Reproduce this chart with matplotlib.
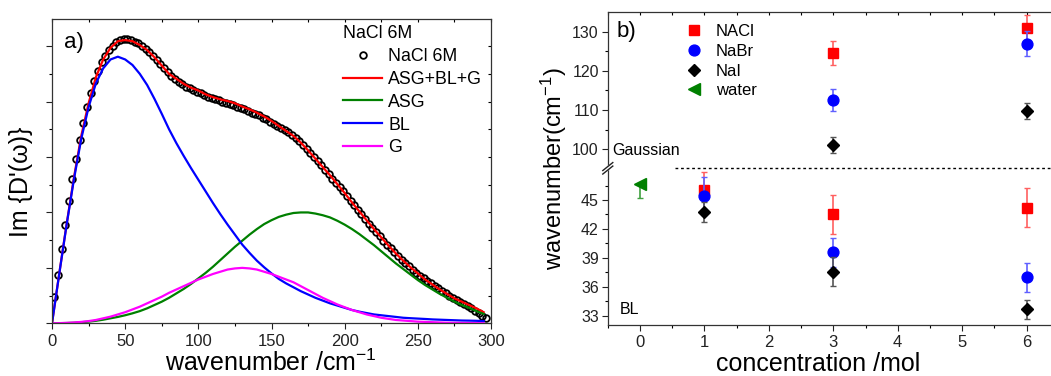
import numpy as np
import matplotlib
matplotlib.use("Agg")
import matplotlib.pyplot as plt
from matplotlib.ticker import MultipleLocator, FixedLocator
from matplotlib.lines import Line2D

plt.rcParams['font.family'] = ['Liberation Sans', 'DejaVu Sans']
plt.rcParams['mathtext.fontset'] = 'custom'
plt.rcParams['mathtext.rm'] = 'Liberation Sans'
plt.rcParams['mathtext.it'] = 'Liberation Sans:italic'

# ---- panel a) : NaCl 6M spectrum and fit components ----
wn_step = 5
red_fit = [0, 0.905, 1.79, 2.63, 3.38, 3.97, 4.44, 4.76, 4.97, 5.09,
           5.11, 5.09, 5.02, 4.93, 4.80, 4.65, 4.50, 4.41, 4.32, 4.25,
           4.20, 4.13, 4.08, 4.04, 4.01, 3.97, 3.91, 3.86, 3.80, 3.73,
           3.65, 3.56, 3.47, 3.38, 3.26, 3.12, 2.97, 2.82, 2.67, 2.51,
           2.35, 2.18, 2.02, 1.86, 1.70, 1.55, 1.40, 1.26, 1.13, 1.01,
           0.90, 0.79, 0.70, 0.61, 0.53, 0.45, 0.39, 0.33, 0.27, 0.20]
bl = [0, 0.90, 1.78, 2.60, 3.33, 3.90, 4.33, 4.60, 4.76, 4.81,
      4.76, 4.66, 4.50, 4.30, 4.05, 3.78, 3.50, 3.25, 3.02, 2.80,
      2.59, 2.38, 2.17, 1.97, 1.78, 1.60, 1.42, 1.27, 1.13, 1.01,
      0.90, 0.80, 0.72, 0.65, 0.58, 0.52, 0.46, 0.41, 0.36, 0.32,
      0.28, 0.24, 0.21, 0.185, 0.16, 0.145, 0.13, 0.115, 0.10, 0.092,
      0.085, 0.078, 0.07, 0.065, 0.06, 0.055, 0.05, 0.048, 0.045, 0.04]
asg = [0, 0.002, 0.005, 0.01, 0.02, 0.03, 0.045, 0.065, 0.09, 0.115,
       0.145, 0.18, 0.22, 0.27, 0.33, 0.39, 0.46, 0.54, 0.62, 0.71,
       0.81, 0.91, 1.02, 1.14, 1.26, 1.38, 1.49, 1.60, 1.70, 1.79,
       1.86, 1.92, 1.96, 1.99, 2.00, 2.00, 1.98, 1.95, 1.91, 1.85,
       1.78, 1.70, 1.61, 1.51, 1.41, 1.30, 1.19, 1.08, 0.98, 0.88,
       0.78, 0.69, 0.61, 0.53, 0.46, 0.39, 0.33, 0.28, 0.22, 0.17]
gauss = [0, 0.003, 0.008, 0.015, 0.025, 0.04, 0.06, 0.09, 0.12, 0.16,
         0.20, 0.25, 0.30, 0.36, 0.42, 0.48, 0.55, 0.61, 0.67, 0.73,
         0.79, 0.84, 0.89, 0.93, 0.97, 0.99, 1.00, 0.99, 0.97, 0.93,
         0.89, 0.84, 0.79, 0.74, 0.67, 0.60, 0.53, 0.46, 0.40, 0.34,
         0.29, 0.24, 0.20, 0.16, 0.13, 0.10, 0.08, 0.06, 0.05, 0.04,
         0.03, 0.025, 0.02, 0.015, 0.01, 0.008, 0.006, 0.004, 0.003, 0.002]

# measured points (every 2.5 cm-1 starting at 1.5)
meas = [0.47, 0.88, 1.34, 1.78, 2.20, 2.60, 2.96, 3.30, 3.62, 3.90,
        4.15, 4.37, 4.56, 4.71, 4.83, 4.93, 5.01, 5.07, 5.11, 5.13,
        5.13, 5.11, 5.08, 5.05, 5.00, 4.95, 4.89, 4.82, 4.75, 4.68,
        4.60, 4.53, 4.46, 4.41, 4.36, 4.31, 4.27, 4.24, 4.21, 4.18,
        4.15, 4.12, 4.09, 4.07, 4.04, 4.02, 4.00, 3.98, 3.96, 3.94,
        3.91, 3.88, 3.86, 3.83, 3.80, 3.78, 3.75, 3.71, 3.68, 3.64,
        3.60, 3.56, 3.53, 3.49, 3.45, 3.40, 3.35, 3.29, 3.22, 3.15,
        3.08, 3.00, 2.93, 2.85, 2.77, 2.69, 2.61, 2.54, 2.46, 2.38,
        2.29, 2.21, 2.13, 2.05, 1.97, 1.88, 1.80, 1.72, 1.65, 1.57,
        1.49, 1.42, 1.35, 1.28, 1.21, 1.15, 1.09, 1.03, 0.97, 0.91,
        0.86, 0.81, 0.76, 0.72, 0.67, 0.63, 0.58, 0.54, 0.50, 0.46,
        0.42, 0.38, 0.35, 0.31, 0.27, 0.23, 0.19, 0.14, 0.10]

wn = wn_step * np.arange(len(red_fit))
wn_meas = 1.5 + 2.5 * np.arange(len(meas))

# ---- panel b) : peak positions vs concentration ----
conc_g = [3, 6]
nacl_g = [124.6, 131.0]
nacl_g_err = [3.1, 3.2]
nabr_g = [112.6, 126.9]
nabr_g_err = [2.9, 3.2]
nai_g = [101.1, 109.7]
nai_g_err = [2.1, 2.1]

conc_bl = [1, 3, 6]
nacl_bl = [46.0, 43.5, 44.2]
nacl_bl_err = [1.9, 2.0, 2.0]
nabr_bl = [45.4, 39.6, 37.0]
nabr_bl_err = [2.0, 1.5, 1.5]
nai_bl = [43.75, 37.55, 33.65]
nai_bl_err = [1.0, 1.5, 0.95]
water_conc = [0]
water_bl = [46.7]
water_bl_err_low = [1.5]

W, H = 1051, 376
fig = plt.figure(figsize=(W / 100, H / 100), dpi=100)

# ---------------- panel a ----------------
axa = fig.add_axes([52 / W, 1 - 323.3 / H, 439 / W, (323.3 - 19) / H])
axa.plot(wn_meas, meas, 'o', ms=4.8, mfc='none', mec='black', mew=1.3, label='NaCl 6M')
axa.plot(wn, red_fit, color='#ff0000', lw=1.6, label='ASG+BL+G')
axa.plot(wn, asg, color='#008000', lw=1.6, label='ASG')
axa.plot(wn, bl, color='#0000ff', lw=1.6, label='BL')
axa.plot(wn, gauss, color='#ff00ff', lw=1.6, label='G')
axa.set_xlim(0, 300)
axa.set_ylim(0, 5.49)
axa.xaxis.set_major_locator(MultipleLocator(50))
axa.xaxis.set_minor_locator(MultipleLocator(25))
axa.yaxis.set_major_locator(MultipleLocator(1))
axa.yaxis.set_minor_locator(MultipleLocator(0.5))
axa.tick_params(axis='both', which='major', direction='out', length=4, width=0.8,
                labelsize=12, colors='#222222')
axa.tick_params(axis='both', which='minor', direction='out', length=2.5, width=0.8)
axa.tick_params(axis='y', labelleft=False)
for s in axa.spines.values():
    s.set_linewidth(0.9)
    s.set_color('#333333')

# mirror ticks pointing inward on top and right
top = axa.secondary_xaxis('top')
top.xaxis.set_major_locator(MultipleLocator(50))
top.xaxis.set_minor_locator(MultipleLocator(25))
top.tick_params(which='both', direction='in', length=2.5, width=0.8, labeltop=False)
top.spines['top'].set_visible(False)
right = axa.secondary_yaxis('right')
right.yaxis.set_major_locator(MultipleLocator(1))
right.yaxis.set_minor_locator(MultipleLocator(0.5))
right.tick_params(which='both', direction='in', length=2.5, width=0.8, labelright=False)
right.spines['right'].set_visible(False)

axa.text(0.028, 0.905, 'a)', transform=axa.transAxes, fontsize=16)
# legend title placed as its own text, entries below it
fig.text(343 / W, 1 - 33 / H, 'NaCl 6M', ha='left', va='center', fontsize=12.8)
axa.legend(loc='upper left', bbox_to_anchor=(0.663, 0.905),
           frameon=False, fontsize=12.8, handlelength=2.2,
           handletextpad=0.33, labelspacing=0.33, borderpad=0, borderaxespad=0)

fig.text(33 / W, 1 - 182 / H, "Im {D'(\u03c9)}", rotation=90, ha='right', va='center', fontsize=18)
fig.text(271 / W, 1 - 371 / H, 'wavenumber /cm$^{-1}$', ha='center', va='baseline', fontsize=18)

# ---------------- panel b (broken axis) ----------------
x0, xw = 607.8, 451
ax_up = fig.add_axes([x0 / W, 1 - 168.3 / H, xw / W, (168.3 - 11.7) / H])
ax_lo = fig.add_axes([x0 / W, 1 - 325 / H, xw / W, (325 - 168.3) / H])

series = [
    (nacl_g, nacl_g_err, nacl_bl, nacl_bl_err, 's', '#ff0000', '#ff6060', 7, 'NACl'),
    (nabr_g, nabr_g_err, nabr_bl, nabr_bl_err, 'o', '#0000ff', '#6060ff', 7.8, 'NaBr'),
    (nai_g, nai_g_err, nai_bl, nai_bl_err, 'D', '#000000', '#555555', 6.2, 'NaI'),
]
handles = []
for yg, eg, yb, eb, mk, col, ecol, ms, lab in series:
    ax_up.errorbar(conc_g, yg, yerr=eg, fmt='none', ecolor=ecol, elinewidth=1.2, capsize=2.5, capthick=1.0)
    ax_up.plot(conc_g, yg, mk, color=col, ms=ms, mec=col)
    ax_lo.errorbar(conc_bl, yb, yerr=eb, fmt='none', ecolor=ecol, elinewidth=1.2, capsize=2.5, capthick=1.0)
    ax_lo.plot(conc_bl, yb, mk, color=col, ms=ms, mec=col)
    handles.append(Line2D([], [], ls='none', marker=mk, color=col, ms=ms, label=lab))

ax_lo.errorbar(water_conc, water_bl, yerr=[water_bl_err_low, [0]], fmt='none', ecolor='#40a040',
               elinewidth=1.2, capsize=2.5, capthick=1.0)
ax_lo.plot(water_conc, water_bl, '<', color='#008000', ms=8.5)
handles.append(Line2D([], [], ls='none', marker='<', color='#008000', ms=8.5, label='water'))

for ax in (ax_up, ax_lo):
    ax.set_xlim(-0.5, 6.5)
    ax.spines['right'].set_visible(False)
    for s in ax.spines.values():
        s.set_linewidth(0.9)
        s.set_color('#333333')
    ax.xaxis.set_major_locator(MultipleLocator(1))
    ax.xaxis.set_minor_locator(MultipleLocator(0.5))
    ax.tick_params(axis='y', which='major', direction='out', length=4, width=0.8, pad=2.5,
                   labelsize=11.5, colors='#222222')
    ax.tick_params(axis='y', which='minor', direction='out', length=2.5, width=0.8)

ax_up.set_ylim(95.15, 135.1)
ax_up.yaxis.set_major_locator(FixedLocator([100, 110, 120, 130]))
ax_up.yaxis.set_minor_locator(FixedLocator([105, 115, 125]))
ax_up.spines['bottom'].set_visible(False)
ax_up.xaxis.tick_top()
ax_up.tick_params(axis='x', which='both', direction='in', length=2.5, width=0.8, labeltop=False)

ax_lo.set_ylim(32.04, 48.29)
ax_lo.yaxis.set_major_locator(FixedLocator([33, 36, 39, 42, 45]))
ax_lo.yaxis.set_minor_locator(FixedLocator([34.5, 37.5, 40.5, 43.5, 46.5]))
ax_lo.spines['top'].set_visible(False)
ax_lo.tick_params(axis='x', which='major', direction='out', length=4, width=0.8,
                  labelsize=12, colors='#222222', top=False)
ax_lo.tick_params(axis='x', which='minor', direction='out', length=2.5, width=0.8, top=False)

# dotted separator between the two ranges
ax_lo.axhline(ax_lo.get_ylim()[1], xmin=(0.54 + 0.5) / 7.0, xmax=1, color='black',
              lw=1.0, ls=(0, (2, 2)), clip_on=False)

# break marks on the left spine
bx, by = x0 / W, 1 - 168.3 / H
dx, dy = 5 / W, 4 / H
gap = 3.5 / H
fig.patches.append(plt.Polygon([(bx - dx, by - dy - gap / 2), (bx + dx, by + dy - gap / 2),
                                (bx + dx, by + dy + gap / 2), (bx - dx, by - dy + gap / 2)],
                               closed=True, transform=fig.transFigure, color='white', zorder=10))
for off in (-gap / 2, gap / 2):
    fig.add_artist(Line2D([bx - dx, bx + dx], [by - dy + off, by + dy + off],
                          transform=fig.transFigure, color='#222222', lw=1.0, zorder=11))

ax_up.text(-0.43, 99.8, 'Gaussian', fontsize=11.5, va='center', ha='left')
ax_lo.text(-0.31, 33.6, 'BL', fontsize=11.5, va='center', ha='left')
ax_up.text(0.02, 0.84, 'b)', transform=ax_up.transAxes, fontsize=16)

ax_up.legend(handles=handles, loc='upper left', bbox_to_anchor=(0.165, 0.92), frameon=False,
             fontsize=12, handlelength=1.4, handletextpad=0.6, labelspacing=0.28,
             borderpad=0, borderaxespad=0)

fig.text(569 / W, 1 - 169 / H, 'wavenumber(cm$^{-1}$)', rotation=90, ha='right', va='center', fontsize=17)
fig.text(818 / W, 1 - 371 / H, 'concentration /mol', ha='center', va='baseline', fontsize=18)

fig.savefig('out.png', dpi=100)
